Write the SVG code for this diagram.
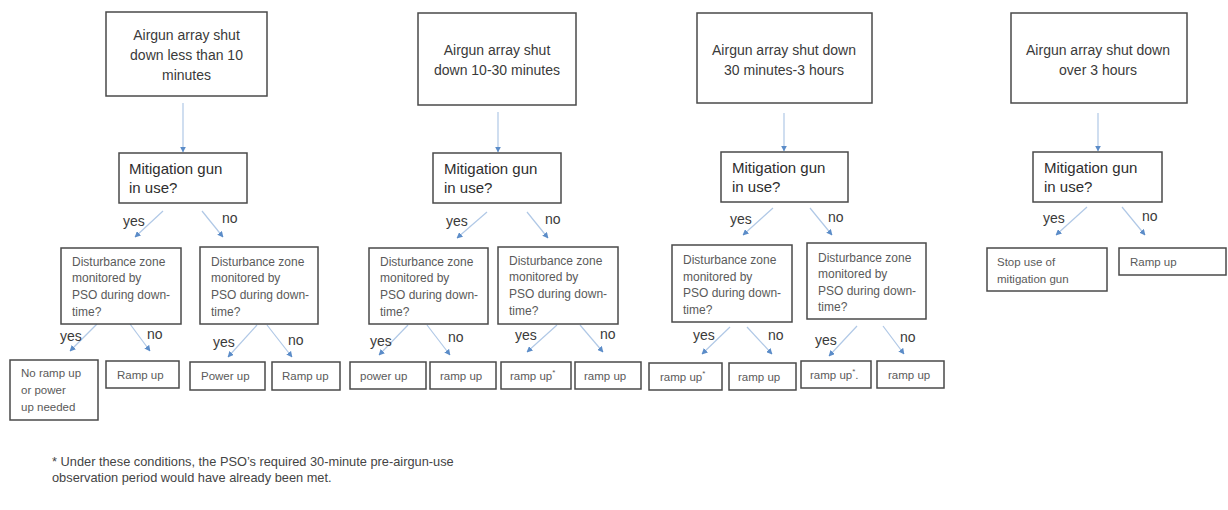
<svg xmlns="http://www.w3.org/2000/svg" width="1228" height="510" viewBox="0 0 1228 510">
<defs>
<marker id="ah" viewBox="0 0 10 10" refX="9" refY="5" markerWidth="6" markerHeight="6" orient="auto" markerUnits="userSpaceOnUse"><path d="M0,0 L10,5 L0,10 z" fill="#5b8cc8"/></marker>
<style>
rect{fill:#fff;stroke:#4a4a4a;stroke-width:1.5}
text{font-family:"Liberation Sans",Arial,sans-serif}
.t{font-size:14px;fill:#3a3a3a;text-anchor:middle}
.m{font-size:15px;fill:#2e2e2e}
.d{font-size:12px;fill:#5a5a5a}
.s{font-size:11.5px;fill:#5a5a5a}
.l{font-size:14px;fill:#3a3a3a}
.f{font-size:12.8px;fill:#444}
.c line{stroke:#b0c8e6;stroke-width:1.2;marker-end:url(#ah)}
</style>
</defs>
<rect x="0" y="0" width="1228" height="510" style="fill:#fff;stroke:none"/>
<g class="c" id="connectors">
<line x1="183" y1="103" x2="183" y2="152"/>
<line x1="163" y1="211" x2="135" y2="237"/>
<line x1="202" y1="211" x2="223" y2="237"/>
<line x1="97" y1="324" x2="70" y2="351"/>
<line x1="130" y1="324" x2="150" y2="351"/>
<line x1="257" y1="325" x2="228" y2="357"/>
<line x1="267" y1="325" x2="292" y2="357"/>
<line x1="498" y1="112" x2="498" y2="152"/>
<line x1="487" y1="212" x2="457" y2="238"/>
<line x1="527" y1="212" x2="548" y2="238"/>
<line x1="408" y1="325" x2="379" y2="355"/>
<line x1="427" y1="325" x2="450" y2="355"/>
<line x1="557" y1="325" x2="527" y2="352"/>
<line x1="580" y1="325" x2="603" y2="352"/>
<line x1="784" y1="113" x2="784" y2="151"/>
<line x1="773" y1="208" x2="743" y2="235"/>
<line x1="810" y1="208" x2="832" y2="235"/>
<line x1="730" y1="327" x2="702" y2="354"/>
<line x1="747" y1="327" x2="772" y2="354"/>
<line x1="857" y1="326" x2="829" y2="356"/>
<line x1="883" y1="326" x2="904" y2="354"/>
<line x1="1098" y1="113" x2="1098" y2="151"/>
<line x1="1087" y1="207" x2="1056" y2="235"/>
<line x1="1122" y1="207" x2="1145" y2="235"/>
</g>
<g id="labels">
<text class="l" x="123" y="226">yes</text><text class="l" x="222" y="223">no</text>
<text class="l" x="60" y="341">yes</text><text class="l" x="147" y="339">no</text>
<text class="l" x="213" y="347">yes</text><text class="l" x="288" y="345">no</text>
<text class="l" x="446" y="226">yes</text><text class="l" x="545" y="224">no</text>
<text class="l" x="370" y="346">yes</text><text class="l" x="448" y="342">no</text>
<text class="l" x="515" y="340">yes</text><text class="l" x="600" y="339">no</text>
<text class="l" x="730" y="224">yes</text><text class="l" x="828" y="222">no</text>
<text class="l" x="693" y="340">yes</text><text class="l" x="768" y="340">no</text>
<text class="l" x="815" y="345">yes</text><text class="l" x="900" y="342">no</text>
<text class="l" x="1043" y="223">yes</text><text class="l" x="1142" y="221">no</text>
</g>
<!-- Column 1 -->
<g id="top1"><rect x="106" y="12" width="161" height="84"/><text class="t" x="186.5" y="40">Airgun array shut</text><text class="t" x="186.5" y="60">down less than 10</text><text class="t" x="186.5" y="80">minutes</text></g>
<g id="mit1"><rect x="119" y="153" width="128" height="50"/><text class="m" x="129" y="174">Mitigation gun</text><text class="m" x="129" y="193">in use?</text></g>
<g id="dist1a"><rect x="61" y="248" width="120" height="76"/><text class="d" x="72" y="266">Disturbance zone</text><text class="d" x="72" y="282">monitored by</text><text class="d" x="72" y="299">PSO during down-</text><text class="d" x="72" y="316">time?</text></g>
<g id="dist1b"><rect x="200" y="247" width="118" height="77"/><text class="d" x="211" y="266">Disturbance zone</text><text class="d" x="211" y="282">monitored by</text><text class="d" x="211" y="299">PSO during down-</text><text class="d" x="211" y="316">time?</text></g>
<g id="r1a"><rect x="10" y="360" width="88" height="60"/><text class="s" x="21" y="377">No ramp up</text><text class="s" x="21" y="394">or power</text><text class="s" x="21" y="411">up needed</text></g>
<g id="r1b"><rect x="106" y="361" width="73" height="27"/><text class="s" x="117" y="379">Ramp up</text></g>
<g id="r1c"><rect x="190" y="362" width="75" height="28"/><text class="s" x="201" y="380">Power up</text></g>
<g id="r1d"><rect x="272" y="362" width="68" height="28"/><text class="s" x="282" y="380">Ramp up</text></g>
<!-- Column 2 -->
<g id="top2"><rect x="418" y="13" width="158" height="92"/><text class="t" x="497" y="55">Airgun array shut</text><text class="t" x="497" y="75">down 10-30 minutes</text></g>
<g id="mit2"><rect x="433" y="153" width="128" height="50"/><text class="m" x="444" y="174">Mitigation gun</text><text class="m" x="444" y="193">in use?</text></g>
<g id="dist2a"><rect x="369" y="248" width="119" height="76"/><text class="d" x="380" y="266">Disturbance zone</text><text class="d" x="380" y="282">monitored by</text><text class="d" x="380" y="299">PSO during down-</text><text class="d" x="380" y="316">time?</text></g>
<g id="dist2b"><rect x="498" y="247" width="120" height="77"/><text class="d" x="509" y="265">Disturbance zone</text><text class="d" x="509" y="281">monitored by</text><text class="d" x="509" y="298">PSO during down-</text><text class="d" x="509" y="315">time?</text></g>
<g id="r2a"><rect x="350" y="362" width="76" height="27"/><text class="s" x="360" y="380">power up</text></g>
<g id="r2b"><rect x="430" y="362" width="66" height="27"/><text class="s" x="440" y="380">ramp up</text></g>
<g id="r2c"><rect x="501" y="362" width="70" height="27"/><text class="s" x="510" y="380">ramp up<tspan font-size="8" dy="-5">*</tspan></text></g>
<g id="r2d"><rect x="575" y="362" width="66" height="27"/><text class="s" x="584" y="380">ramp up</text></g>
<!-- Column 3 -->
<g id="top3"><rect x="697" y="13" width="175" height="90"/><text class="t" x="784" y="55">Airgun array shut down</text><text class="t" x="784" y="75">30 minutes-3 hours</text></g>
<g id="mit3"><rect x="721" y="152" width="127" height="50"/><text class="m" x="732" y="173">Mitigation gun</text><text class="m" x="732" y="192">in use?</text></g>
<g id="dist3a"><rect x="672" y="245" width="120" height="77"/><text class="d" x="683" y="264">Disturbance zone</text><text class="d" x="683" y="281">monitored by</text><text class="d" x="683" y="297">PSO during down-</text><text class="d" x="683" y="314">time?</text></g>
<g id="dist3b"><rect x="807" y="243" width="119" height="76"/><text class="d" x="818" y="262">Disturbance zone</text><text class="d" x="818" y="278">monitored by</text><text class="d" x="818" y="295">PSO during down-</text><text class="d" x="818" y="311">time?</text></g>
<g id="r3a"><rect x="649" y="363" width="73" height="27"/><text class="s" x="660" y="381">ramp up<tspan font-size="8" dy="-5">*</tspan></text></g>
<g id="r3b"><rect x="729" y="363" width="67" height="27"/><text class="s" x="738" y="381">ramp up</text></g>
<g id="r3c"><rect x="801" y="361" width="70" height="27"/><text class="s" x="810" y="379">ramp up<tspan font-size="8" dy="-5">*</tspan><tspan dy="5">.</tspan></text></g>
<g id="r3d"><rect x="877" y="361" width="67" height="27"/><text class="s" x="888" y="379">ramp up</text></g>
<!-- Column 4 -->
<g id="top4"><rect x="1011" y="13" width="176" height="90"/><text class="t" x="1098" y="55">Airgun array shut down</text><text class="t" x="1098" y="75">over 3 hours</text></g>
<g id="mit4"><rect x="1033" y="152" width="129" height="50"/><text class="m" x="1044" y="173">Mitigation gun</text><text class="m" x="1044" y="192">in use?</text></g>
<g id="r4a"><rect x="987" y="248" width="120" height="43"/><text class="s" x="997" y="266">Stop use of</text><text class="s" x="997" y="283">mitigation gun</text></g>
<g id="r4b"><rect x="1119" y="248" width="107" height="27"/><text class="s" x="1130" y="266">Ramp up</text></g>
<g id="footnote"><text class="f" x="52" y="466">* Under these conditions, the PSO’s required 30-minute pre-airgun-use</text><text class="f" x="52" y="482">observation period would have already been met.</text></g>
</svg>
